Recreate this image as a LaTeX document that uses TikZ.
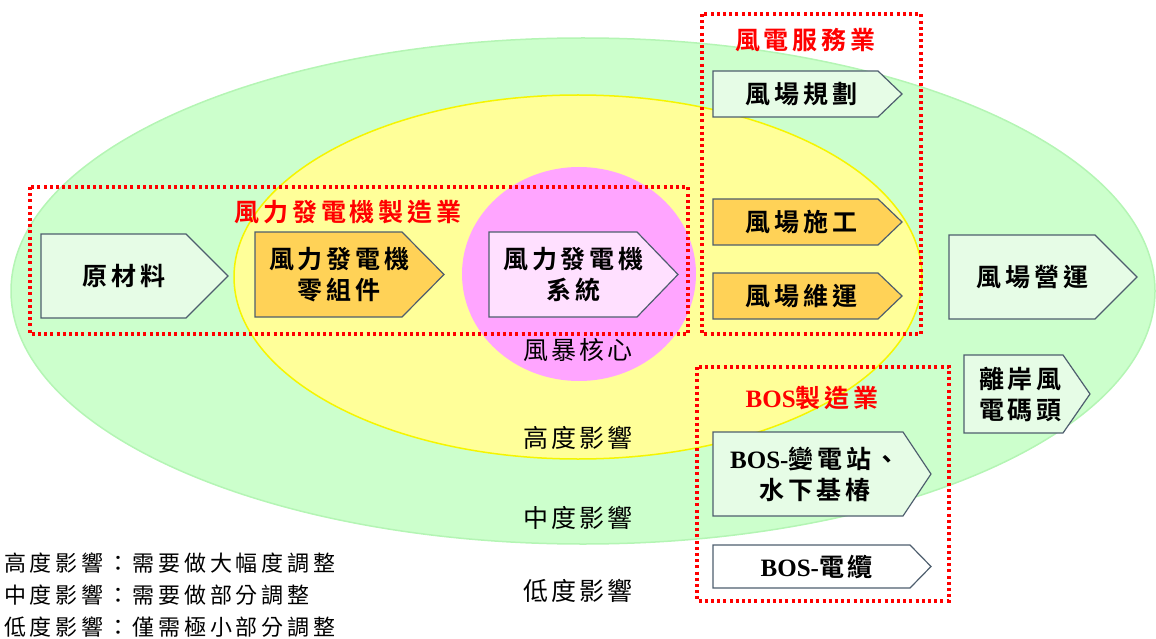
\documentclass[tikz,border=0pt]{standalone}
\usepackage{fontspec}
\newfontfamily\cjk[LetterSpace=12]{Noto Sans CJK TC}
\newfontfamily\cjklg[LetterSpace=17]{Noto Sans CJK TC}
\newfontfamily\cjkb[LetterSpace=15]{Noto Sans CJK TC Bold}
\setmainfont{Liberation Serif}
\definecolor{ellgreen}{HTML}{CCFFCC}
\definecolor{ellgreenline}{HTML}{B4F5B4}
\definecolor{ellyellow}{HTML}{FFFF99}
\definecolor{ellyellowline}{HTML}{F5F500}
\definecolor{ellpink}{HTML}{FFA5FF}
\definecolor{boxgreen}{HTML}{E6FCE6}
\definecolor{boxorange}{HTML}{FFD257}
\definecolor{boxpink}{HTML}{FFE0FF}
\definecolor{boxline}{HTML}{4E5E6E}
\definecolor{titlered}{HTML}{FF0000}
\tikzset{
  abox/.style={draw=boxline,line width=1.2pt},
  boxtxt/.style={font=\cjkb\fontsize{25}{31}\selectfont,align=center,inner sep=0pt},
  redframe/.style={draw=titlered,line width=3.2pt,dash pattern=on 3pt off 3.2pt},
  redtitle/.style={font=\cjkb\fontsize{25}{30}\selectfont,text=titlered,inner sep=0pt},
  zonelbl/.style={font=\cjk\fontsize{25}{30}\selectfont,inner sep=0pt},
  legend/.style={font=\cjklg\fontsize{22}{32}\selectfont,anchor=west,inner sep=0pt}
}
% name, x1, y1, xbody, xtip, y2, fill, text
\newcommand\abx[8]{%
  \draw[abox,fill=#7] (#2,#3) -- (#4,#3) -- (#5,{(#3+#6)/2}) -- (#4,#6) -- (#2,#6) -- cycle;
  \node[boxtxt] (#1) at ({(#2+(#4+#5)/2)/2},{(#3+#6)/2}) {#8};}
\begin{document}
\begin{tikzpicture}[x=1pt,y=-1pt]
\useasboundingbox (0,0) rectangle (1156,639);
% zones
\draw[fill=ellgreen,draw=ellgreenline,line width=1.5pt] (583,291) ellipse [x radius=572,y radius=253];
\draw[fill=ellyellow,draw=ellyellowline,line width=1.5pt] (578,277) ellipse [x radius=344,y radius=182];
\fill[ellpink] (579,274) ellipse [x radius=117,y radius=107];
% zone labels
\node[zonelbl] (core) at (578,350) {風暴核心};
\node[zonelbl] (high) at (578,438) {高度影響};
\node[zonelbl] (mid) at (578,518) {中度影響};
\node[zonelbl] (low) at (578,591) {低度影響};
% boxes
\abx{raw}{41}{234}{186}{228}{318}{boxgreen}{原材料}
\abx{parts}{255}{232}{402}{444}{317}{boxorange}{風力發電機\\零組件}
\abx{sys}{489}{232}{637}{678}{317}{boxpink}{風力發電機\\系統}
\abx{plan}{713}{71}{878}{902}{117}{boxgreen}{風場規劃}
\abx{build}{713}{199}{878}{902}{245}{boxorange}{風場施工}
\abx{maint}{713}{273}{878}{902}{319}{boxorange}{風場維運}
\abx{oper}{949}{235}{1095}{1137}{319}{boxgreen}{風場營運}
\abx{port}{964}{355}{1063}{1090}{433}{boxgreen}{離岸風\\電碼頭}
\abx{sub}{713}{432}{903}{931}{516}{boxgreen}{{\bfseries\rmfamily BOS-}變電站、\\水下基椿}
\abx{cable}{713}{545}{910}{931}{588}{white}{{\bfseries\rmfamily BOS-}電纜}
% red dotted frames
\draw[redframe] (30,187) rectangle (688,334);
\draw[redframe] (702,14) rectangle (921,334);
\draw[redframe] (697,367) rectangle (949,601);
\node[redtitle] (t1) at (348,212) {風力發電機製造業};
\node[redtitle] (t2) at (805,40) {風電服務業};
\node[redtitle] (t3) at (812,398) {{\bfseries\rmfamily BOS}製造業};
% legend
\node[legend] (lg1) at (4,563) {高度影響：需要做大幅度調整};
\node[legend] (lg2) at (4,595) {中度影響：需要做部分調整};
\node[legend] (lg3) at (4,627) {低度影響：僅需極小部分調整};
\end{tikzpicture}
\end{document}
